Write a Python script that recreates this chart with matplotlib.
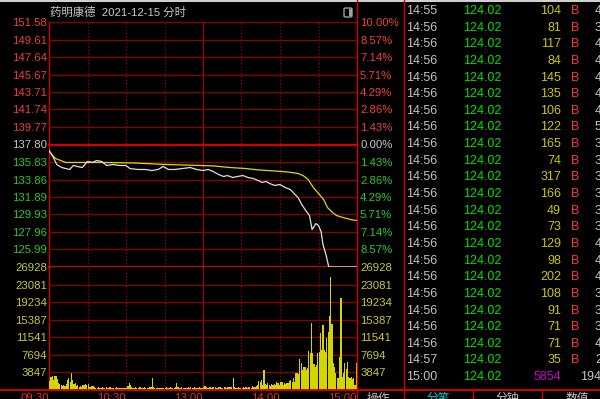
import matplotlib
matplotlib.use('Agg')
import matplotlib.pyplot as plt
from matplotlib.lines import Line2D
from matplotlib.patches import FancyBboxPatch, Rectangle
import numpy as np

# ---- data ----
title = '药明康德  2021-12-15 分时'
pre_close = 137.80
price_levels = [151.58, 149.61, 147.64, 145.67, 143.71, 141.74, 139.77, 137.80,
                135.83, 133.86, 131.89, 129.93, 127.96, 125.99, 124.02]
pct_labels = ['10.00%', '8.57%', '7.14%', '5.71%', '4.29%', '2.86%', '1.43%', '0.00%',
              '1.43%', '2.86%', '4.29%', '5.71%', '7.14%', '8.57%', '']
vol_levels = [0, 3847, 7694, 11541, 15387, 19234, 23081, 26928]
time_ticks = [0, 60, 120, 180, 240]
time_labels = ['09:30', '10:30', '13:00', '14:00', '15:00']

# price line (minute index, price)
price_min = [0, 3, 6, 10, 13, 16, 19, 22, 26, 30, 34, 37, 41, 45, 50, 55, 60, 63, 69, 75,
             80, 85, 89, 93, 98, 104, 110, 115, 120, 124, 128, 132, 136, 139, 143, 147, 151,
             155, 159, 163, 166, 169, 172, 176, 180, 184, 188, 191, 194, 197, 200, 203, 205,
             208, 210, 212, 213.5, 216, 218, 240]
price_val = [137.13, 136.45, 135.55, 135.21, 135.10, 134.99, 135.44, 135.33, 135.21, 135.89,
             135.78, 136.00, 135.89, 135.44, 135.55, 135.44, 135.44, 135.10, 134.99, 134.99,
             134.87, 134.99, 135.33, 134.99, 134.99, 135.10, 135.21, 134.99, 134.87, 134.99,
             134.76, 134.43, 134.20, 134.31, 134.09, 134.20, 134.31, 134.09, 133.98, 133.75,
             133.53, 133.64, 133.41, 133.19, 133.30, 132.96, 132.74, 132.29, 131.84, 131.05,
             130.38, 129.81, 128.24, 128.91, 128.69, 128.01, 126.55, 125.31, 124.02, 124.02]

# average price line
avg_min = [0, 2, 5, 9, 13, 24, 40, 67, 91, 118, 129, 141, 153, 164, 176, 186, 194, 198,
           202, 206, 210, 214, 217, 221, 224, 229, 235, 240]
avg_val = [137.13, 136.68, 136.23, 136.00, 135.78, 135.78, 135.78, 135.72, 135.55, 135.44,
           135.38, 135.21, 135.10, 134.93, 134.82, 134.71, 134.54, 134.31, 133.86, 132.96,
           132.29, 131.61, 130.71, 130.15, 129.81, 129.59, 129.36, 129.25]

# volume per minute (240 bars)
volume = [
    1980, 2860, 3080, 2200, 3080, 3080, 2420, 1540, 1320, 1100,
    880, 1100, 880, 1320, 2200, 2640, 1760, 3740, 2200, 1320,
    1540, 880, 1100, 660, 880, 660, 1100, 1100, 1320, 1100,
    1320, 700, 600, 880, 900, 750, 500, 450, 600, 520,
    480, 560, 420, 500, 650, 480, 400, 550, 470, 380,
    520, 450, 600, 480, 420, 500, 380, 460, 540, 420,
    480, 900, 1500, 1100, 700, 520, 460, 580, 420, 480,
    560, 640, 480, 420, 550, 460, 520, 400, 600, 700,
    2640, 620, 480, 540, 420, 460, 380, 520, 460, 420,
    500, 560, 420, 480, 620, 500, 440, 540, 700, 1540,
    640, 520, 460, 600, 480, 540, 420, 500, 640, 460,
    700, 520, 480, 560, 440, 500, 460, 620, 520, 480,
    700, 820, 600, 500, 540, 760, 480, 620, 560, 680,
    520, 480, 760, 600, 540, 460, 700, 580, 520, 640,
    560, 700, 640, 2600, 580, 500, 460, 620, 540, 480,
    520, 600, 460, 560, 500, 640, 700, 540, 820, 600,
    680, 900, 1100, 2000, 1700, 2200, 1200, 4400, 1300, 1000,
    1500, 1100, 900, 1300, 1000, 1400, 1200, 1700, 1500, 1200,
    1760, 1760, 1100, 1540, 1320, 1540, 1540, 1980, 2200, 1760,
    2640, 1760, 3740, 3740, 3520, 6820, 5940, 4400, 5060, 5060,
    4400, 4840, 8580, 8140, 14740, 8140, 5720, 5060, 5500, 8140,
    8360, 12540, 8800, 14300, 8800, 8360, 11440, 12760, 16280, 24640,
    14520, 5940, 5060, 3740, 2640, 2640, 7260, 20240, 2860, 3740,
    5940, 4620, 6160, 2860, 2640, 2860, 2420, 2640, 1100, 5940,
]

# tick-by-tick list on the right
tick_time = ['14:55'] + ['14:56'] * 20 + ['14:57', '15:00']
tick_price = ['124.02'] * 23
tick_vol = ['104', '81', '117', '84', '145', '135', '106', '122', '165', '74', '317', '166',
            '49', '73', '129', '98', '202', '108', '91', '71', '71', '35', '5854']
tick_side = ['B'] * 22 + ['']
tick_extra = ['4', '3', '4', '4', '4', '4', '4', '5', '3', '3', '3', '3', '3', '3', '4', '4',
              '4', '3', '3', '3', '4', '2', '194']

# ---- style ----
BG = '#000000'
GRID = '#8c0000'
GRID_HI = '#d20000'
RED_TXT = '#f03c3c'
GREEN_TXT = '#28c828'
GREY_TXT = '#c8c8c8'
YEL_TXT = '#c8c832'
FONT = 'Liberation Sans'

W, H = 600, 399


def fx(px):
    return px / W


def fy(py):
    return 1 - py / H


fig = plt.figure(figsize=(6, 3.99), dpi=100, facecolor=BG)

ax_p = fig.add_axes([fx(49), fy(267), 308 / W, 245 / H], facecolor=BG)
ax_v = fig.add_axes([fx(49), fy(390), 308 / W, 123 / H], facecolor=BG)

for ax in (ax_p, ax_v):
    ax.set_xlim(0, 240)
    for s in ax.spines.values():
        s.set_visible(False)
    for t in (30, 60, 90, 150, 180, 210):
        ax.axvline(t, color='#b00000', lw=0.8, ls=(0, (1, 2)), zorder=1)
    ax.axvline(120, color='#b00000', lw=0.8, zorder=1)
    ax.axvline(0, color=GRID_HI, lw=1.0, zorder=1, clip_on=False)

ax_p.set_ylim(price_levels[-1], price_levels[0])
ax_v.set_ylim(0, vol_levels[-1])

for p in price_levels:
    hi = p == pre_close or p == price_levels[-1]
    ax_p.axhline(p, color=GRID_HI if hi else GRID, lw=1.6 if hi else 0.9,
                 zorder=1, clip_on=False)
for v in vol_levels[1:-1]:
    ax_v.axhline(v, color=GRID, lw=0.9, zorder=1)

# price & average lines
ax_p.plot(avg_min, avg_val, color='#dcdc00', lw=0.9, zorder=3)
ax_p.plot(price_min, price_val, color='#e0e0e0', lw=0.9, zorder=4)

# volume bars
ax_v.bar(np.arange(len(volume)) + 0.5, volume, width=0.9, color='#d4d400',
         linewidth=0, zorder=3)

# left / right price labels
price_colors = [RED_TXT if p > pre_close else GREY_TXT if p == pre_close else GREEN_TXT
                for p in price_levels]
ax_p.set_yticks(price_levels)
ax_p.set_yticklabels([f'{p:.2f}' for p in price_levels[:-1]] + [''])
ax_p.tick_params(axis='y', length=0, pad=1.5, labelsize=8.2, labelfontfamily=FONT)
for lbl, c in zip(ax_p.get_yticklabels(), price_colors):
    lbl.set_color(c)
ax_p.set_xticks([])

ax_pr = ax_p.twinx()
ax_pr.set_ylim(ax_p.get_ylim())
ax_pr.set_yticks(price_levels)
ax_pr.set_yticklabels(pct_labels)
ax_pr.tick_params(axis='y', length=0, pad=2.2, labelsize=8.2, labelfontfamily=FONT)
for lbl, c in zip(ax_pr.get_yticklabels(), price_colors):
    lbl.set_color(c)
for s in ax_pr.spines.values():
    s.set_visible(False)

# volume labels
vol_text = [''] + [str(v) for v in vol_levels[1:]]
ax_v.set_yticks(vol_levels)
ax_v.set_yticklabels(vol_text)
ax_v.tick_params(axis='y', length=0, pad=1.5, labelsize=8.2, labelfontfamily=FONT,
                 labelcolor=YEL_TXT)
ax_vr = ax_v.twinx()
ax_vr.set_ylim(ax_v.get_ylim())
ax_vr.set_yticks(vol_levels)
ax_vr.set_yticklabels(vol_text)
ax_vr.tick_params(axis='y', length=0, pad=2.2, labelsize=8.2, labelfontfamily=FONT,
                  labelcolor=YEL_TXT)
for s in ax_vr.spines.values():
    s.set_visible(False)

# time axis (labels are cut by the bottom edge, as in the screenshot)
ax_v.set_xticks(time_ticks)
ax_v.set_xticklabels(time_labels)
ax_v.tick_params(axis='x', length=0, pad=2.2, labelsize=8.2, labelfontfamily=FONT,
                 labelcolor='#e03030')
for lbl in ax_v.get_xticklabels():
    lbl.set_ha('right')

# frame lines in figure space
fig.add_artist(Line2D([0, 1], [fy(390), fy(390)], color=GRID_HI, lw=1.4))
fig.add_artist(Line2D([fx(357), fx(357)], [0, 1], color=GRID_HI, lw=1.0))
fig.add_artist(Line2D([fx(404), fx(404)], [0, 1], color=GRID_HI, lw=1.0))
fig.add_artist(Line2D([fx(473), fx(473)], [0, fy(390)], color=GRID_HI, lw=1.0))
fig.add_artist(Line2D([fx(542), fx(542)], [0, fy(390)], color=GRID_HI, lw=1.0))
fig.add_artist(Rectangle((0, fy(1.5)), 1, 1.5 / H, transform=fig.transFigure,
                         color='#d0d0d0', lw=0))

# title and small icon
fig.text(fx(50), fy(12), title, color=GREY_TXT, fontsize=8.2,
         family=[FONT, 'Noto Sans CJK SC'], ha='left', va='center')
fig.add_artist(FancyBboxPatch((fx(344), fy(17)), 8 / W, 9 / H,
                              boxstyle='round,pad=0,rounding_size=0.003',
                              transform=fig.transFigure, fc='none', ec='#a0a0a0', lw=1))
fig.add_artist(Rectangle((fx(348.5), fy(16)), 3 / W, 7 / H, transform=fig.transFigure,
                         color='#a0a0a0', lw=0))

# tick-by-tick rows
row0, step = 11, 16.64
for i in range(len(tick_time)):
    y = fy(row0 + i * step)
    kw = dict(fontsize=9, family=FONT, va='center')
    fig.text(fx(406), y, tick_time[i], color='#c4c4c4', ha='left', **kw)
    fig.text(fx(463), y, tick_price[i], color='#00e000', ha='left', **kw)
    vcol = '#c800c8' if tick_side[i] == '' else '#c8c800'
    fig.text(fx(561), y, tick_vol[i], color=vcol, ha='right', **kw)
    if tick_side[i]:
        fig.text(fx(571), y, tick_side[i], color='#ff3232', ha='left', **kw)
        fig.text(fx(595), y, tick_extra[i], color='#c4c4c4', ha='left', **kw)
    else:
        fig.text(fx(580), y, tick_extra[i], color='#c4c4c4', ha='left', **kw)

# bottom tabs (cut by the image edge)
tab_kw = dict(fontsize=8.5, family=['Noto Sans CJK SC'], ha='center', va='top')
fig.text(fx(378), fy(392), '操作', color='#c8c8c8', **tab_kw)
fig.text(fx(438), fy(392), '分笔', color='#00d0d0', **tab_kw)
fig.text(fx(507), fy(392), '分钟', color='#c8c8c8', **tab_kw)
fig.text(fx(577), fy(392), '数值', color='#c8c8c8', **tab_kw)

fig.savefig('out.png', dpi=100, facecolor=BG)
